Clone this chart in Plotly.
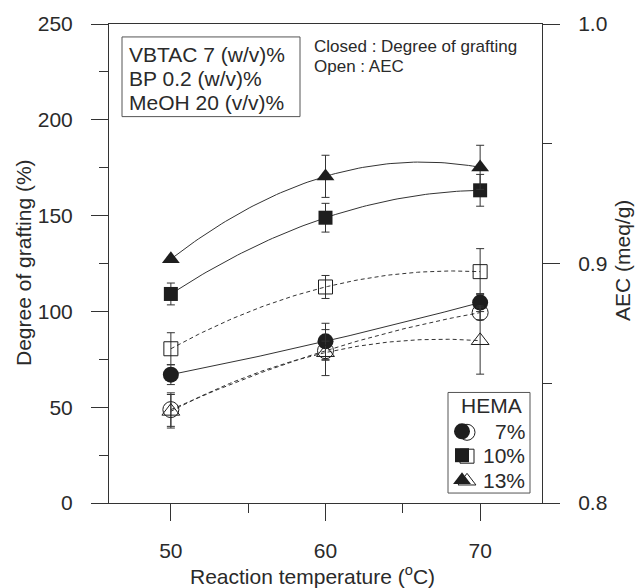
import numpy as np
import plotly.graph_objects as go

# Reaction temperature (deg C)
temps = [50, 60, 70]

# Degree of grafting (%) for each HEMA concentration (closed symbols)
graft_7 = [67.0, 84.4, 104.6]
graft_10 = [109.1, 148.9, 163.2]
graft_13 = [127.3, 170.5, 175.2]
graft_err_7 = [5.2, 9.4, 4.7]
graft_err_10 = [5.7, 7.5, 8.3]
graft_err_13 = [1.0, 11.0, 11.5]

# Anion exchange capacity (meq/g) for each HEMA concentration (open symbols)
aec_7 = [0.839, 0.8636, 0.8795]
aec_10 = [0.8644, 0.8902, 0.8966]
aec_13 = [0.8383, 0.8628, 0.8678]
aec_err_7 = [0.007, 0.004, 0.003]
aec_err_10 = [0.0067, 0.0048, 0.0096]
aec_err_13 = [0.007, 0.0096, 0.014]

hema_labels = ["7%", "10%", "13%"]
symbols = ["circle", "square", "triangle-up"]
sizes = [16, 14, 15.5]

INK = "#1e1e1e"
TEXT = "#2a2a2a"
AXIS = "#333333"
FONT = "Arial, Liberation Sans, Helvetica, sans-serif"

# plot-area pixel frame used for the overlay axis (x3/y3)
L, R, T, B = 109, 542, 22, 503
W, H = 640, 588


def px(x):
    return (x - L) / (R - L)


def py(y):
    return (B - y) / (B - T)


fig = go.Figure()

grid = np.linspace(min(temps), max(temps), 80)

graft_sets = [(graft_7, graft_err_7), (graft_10, graft_err_10), (graft_13, graft_err_13)]
aec_sets = [(aec_7, aec_err_7), (aec_10, aec_err_10), (aec_13, aec_err_13)]

# second-order regression curves
for vals, _ in graft_sets:
    coef = np.polyfit(temps, vals, 2)
    fig.add_trace(go.Scatter(x=grid, y=np.polyval(coef, grid), mode="lines",
                             line=dict(color=AXIS, width=1), yaxis="y",
                             showlegend=False, hoverinfo="skip"))
for vals, _ in aec_sets:
    coef = np.polyfit(temps, vals, 2)
    fig.add_trace(go.Scatter(x=grid, y=np.polyval(coef, grid), mode="lines",
                             line=dict(color=AXIS, width=1, dash="4px,3px"), yaxis="y2",
                             showlegend=False, hoverinfo="skip"))

# AEC points (open)
for (vals, err), sym, sz in zip(aec_sets, symbols, sizes):
    fig.add_trace(go.Scatter(
        x=temps, y=vals, mode="markers", yaxis="y2", showlegend=False,
        marker=dict(symbol=sym + "-open", size=sz, color=INK, line=dict(width=1, color=INK)),
        error_y=dict(type="data", array=err, visible=True, color=AXIS, thickness=1, width=4),
    ))

# grafting points (closed)
for (vals, err), sym, sz in zip(graft_sets, symbols, sizes):
    fig.add_trace(go.Scatter(
        x=temps, y=vals, mode="markers", yaxis="y", showlegend=False,
        marker=dict(symbol=sym, size=sz, color=INK, line=dict(width=0)),
        error_y=dict(type="data", array=err, visible=True, color=AXIS, thickness=1, width=4),
    ))

# HEMA key: closed + open symbol pairs
key_rows = [431, 455, 480]
for yy, sym, sz in zip(key_rows, symbols, sizes):
    fig.add_trace(go.Scatter(x=[467], y=[yy + 1], xaxis="x3", yaxis="y3", mode="markers",
                             marker=dict(symbol=sym + "-open", size=sz, color=INK,
                                         line=dict(width=1, color=INK)),
                             showlegend=False, hoverinfo="skip"))
    fig.add_trace(go.Scatter(x=[462], y=[yy], xaxis="x3", yaxis="y3", mode="markers",
                             marker=dict(symbol=sym, size=sz, color=INK, line=dict(width=0)),
                             showlegend=False, hoverinfo="skip"))

annotations = []
shapes = []

# condition box
shapes.append(dict(type="rect", xref="x3", yref="y3", x0=122, x1=300, y0=35, y1=115,
                   line=dict(color="#555555", width=1)))
for txt, yy in zip(["VBTAC 7 (w/v)%", "BP 0.2 (w/v)%", "MeOH 20 (v/v)%"], [53, 77, 101]):
    annotations.append(dict(x=px(127), y=py(yy), xref="paper", yref="paper", text=txt,
                            showarrow=False, xanchor="left", yanchor="middle",
                            font=dict(size=21, color=TEXT, family=FONT)))

for txt, yy in zip(["Closed : Degree of grafting", "Open : AEC"], [45, 65]):
    annotations.append(dict(x=px(312), y=py(yy), xref="paper", yref="paper", text=txt,
                            showarrow=False, xanchor="left", yanchor="middle",
                            font=dict(size=17, color=TEXT, family=FONT)))

# HEMA key box
shapes.append(dict(type="rect", xref="x3", yref="y3", x0=448, x1=530, y0=392, y1=493,
                   line=dict(color="#555555", width=1)))
annotations.append(dict(x=px(491), y=py(405), xref="paper", yref="paper", text="HEMA",
                        showarrow=False, xanchor="center", yanchor="middle",
                        font=dict(size=21, color=TEXT, family=FONT)))
for txt, yy in zip(hema_labels, key_rows):
    annotations.append(dict(x=px(527), y=py(yy), xref="paper", yref="paper", text=txt,
                            showarrow=False, xanchor="right", yanchor="middle",
                            font=dict(size=21, color=TEXT, family=FONT)))

# axis titles
annotations.append(dict(x=px(23), y=py(262), xref="paper", yref="paper",
                        text="Degree of grafting (%)", textangle=-90, showarrow=False,
                        xanchor="center", yanchor="middle",
                        font=dict(size=21, color=TEXT, family=FONT)))
annotations.append(dict(x=px(622), y=py(260), xref="paper", yref="paper",
                        text="AEC (meq/g)", textangle=-90, showarrow=False,
                        xanchor="center", yanchor="middle",
                        font=dict(size=21, color=TEXT, family=FONT)))
annotations.append(dict(x=px(312), y=py(575), xref="paper", yref="paper",
                        text="Reaction temperature (<sup>o</sup>C)", showarrow=False,
                        xanchor="center", yanchor="middle",
                        font=dict(size=21, color=TEXT, family=FONT)))

axis_common = dict(showline=True, linecolor=AXIS, linewidth=1, showgrid=False,
                   zeroline=False, ticks="outside", ticklen=17, tickwidth=1,
                   tickcolor=AXIS, tickfont=dict(size=21, color=TEXT, family=FONT))

fig.update_layout(
    width=W, height=H,
    margin=dict(l=L, r=W - R, t=T, b=H - B, pad=0),
    paper_bgcolor="white", plot_bgcolor="white",
    showlegend=False,
    font=dict(family=FONT, color=TEXT),
    xaxis=dict(range=[46, 74], tickvals=temps, mirror=True, ticklabelstandoff=12,
               minor=dict(tickvals=[55, 65], ticks="outside", ticklen=9,
                          tickcolor=AXIS, showgrid=False),
               **axis_common),
    yaxis=dict(range=[0, 250], tickvals=[0, 50, 100, 150, 200, 250], mirror=True,
               ticklabelstandoff=14,
               minor=dict(tickvals=[25, 75, 125, 175, 225], ticks="outside", ticklen=9,
                          tickcolor=AXIS, showgrid=False),
               **axis_common),
    yaxis2=dict(range=[0.8, 1.0], overlaying="y", side="right",
                tickvals=[0.8, 0.9, 1.0], ticktext=["0.8", "0.9", "1.0"],
                ticklabelstandoff=14,
                minor=dict(tickvals=[0.85, 0.95], ticks="outside", ticklen=9,
                           tickcolor=AXIS, showgrid=False),
                **axis_common),
    xaxis3=dict(range=[L, R], overlaying="x", visible=False),
    yaxis3=dict(range=[B, T], overlaying="y", visible=False),
    shapes=shapes,
    annotations=annotations,
)

fig.write_html("out.html")
